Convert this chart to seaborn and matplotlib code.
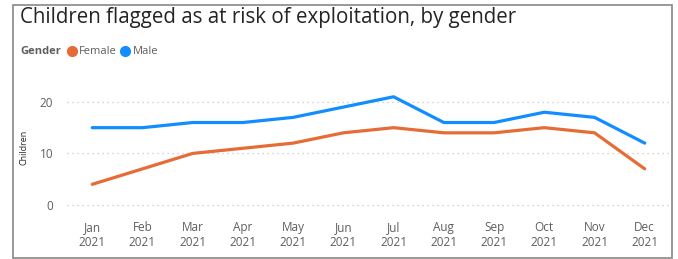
import pandas as pd
import numpy as np
import matplotlib
matplotlib.use("Agg")
import matplotlib.pyplot as plt
from matplotlib.lines import Line2D
from matplotlib.patches import Rectangle
import seaborn as sns

# data
months = ["Jan", "Feb", "Mar", "Apr", "May", "Jun", "Jul", "Aug", "Sep", "Oct", "Nov", "Dec"]
year = "2021"
female = [4, 7, 10, 11, 12, 14, 15, 14, 14, 15, 14, 7]
male = [15, 15, 16, 16, 17, 19, 21, 16, 16, 18, 17, 12]
genders = ["Female", "Male"]
colours = {"Female": "#E66C37", "Male": "#118DFF"}

labels = [m + "\n" + year for m in months]
df = pd.DataFrame({
    "Month": labels * 2,
    "Children": female + male,
    "Gender": ["Female"] * 12 + ["Male"] * 12,
})

sns.set_style("white")
plt.rcParams["font.family"] = ["Open Sans", "DejaVu Sans"]

fig = plt.figure(figsize=(6.78, 2.59), dpi=100)
ax = fig.add_axes([0.099, 0.179, 0.889, 0.507])

sns.lineplot(data=df, x="Month", y="Children", hue="Gender", palette=colours,
             hue_order=genders, linewidth=2.3, ax=ax, legend=False, sort=False)

ax.set_xlim(-0.5, 11.5)
ax.set_ylim(-1.5, 24)
ax.set_yticks([0, 10, 20])
ax.grid(axis="y", color="#C8C6C4", linestyle=(0, (1, 3)), linewidth=0.9)
ax.set_axisbelow(True)
for s in ax.spines.values():
    s.set_visible(False)
ax.tick_params(axis="both", length=0, labelsize=8.5, labelcolor="#605E5C")
ax.tick_params(axis="y", pad=10)
ax.tick_params(axis="x", pad=6)
ax.set_xlabel("")
ax.set_ylabel("Children", fontsize=6.5, color="#252423", labelpad=8)

# title
fig.text(20 / 678, 1 - 18 / 259, "Children flagged as at risk of exploitation, by gender",
         fontsize=14.8, color="#252423", va="center", ha="left")

# legend
fig.text(20 / 678, 1 - 52 / 259, "Gender", fontsize=8, fontweight="bold",
         color="#605E5C", va="center", ha="left")
handles = [Line2D([], [], marker="o", linestyle="none", markersize=7,
                  markerfacecolor=colours[g], markeredgecolor=colours[g]) for g in genders]
leg = fig.legend(handles, genders, loc="center left", bbox_to_anchor=(66 / 678, 1 - 52 / 259),
                 ncol=2, frameon=False, fontsize=8, handletextpad=0.15, columnspacing=0.3,
                 handlelength=1.0, borderaxespad=0, borderpad=0)
for t in leg.get_texts():
    t.set_color("#605E5C")

# visual border
fig.patches.append(Rectangle((13 / 678, 1 / 259), 659 / 678, 253 / 259, transform=fig.transFigure,
                             fill=False, edgecolor="#8A8886", linewidth=1.2))

fig.savefig("out.png", dpi=100)
